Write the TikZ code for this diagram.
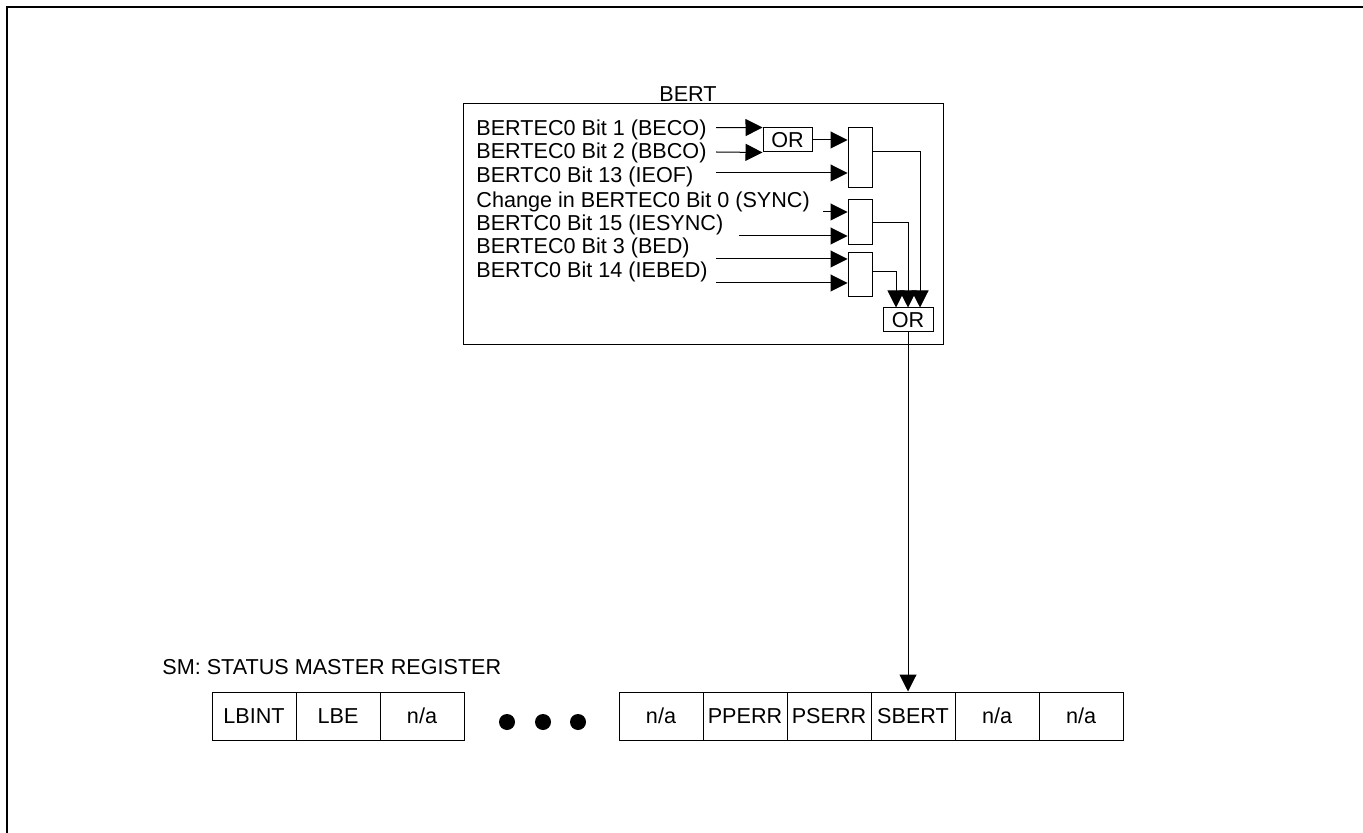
\documentclass[tikz,border=0pt]{standalone}
\usepackage{fontspec}
\setmainfont{Liberation Sans}
\usetikzlibrary{arrows.meta}
\begin{document}
\begin{tikzpicture}[x=0.5pt,y=-0.5pt,
  every node/.style={font=\fontsize{10.8pt}{12pt}\selectfont},
  lbl/.style={anchor=west,inner sep=0pt},
  gate/.style={draw,line width=0.5pt,inner sep=0pt,minimum width=12pt},
  orbox/.style={draw,line width=0.5pt,inner sep=0pt,minimum width=24.5pt,minimum height=12pt},
  cell/.style={draw,line width=0.5pt,inner sep=0pt,minimum width=42pt,minimum height=24pt},
  dot/.style={circle,fill=black,inner sep=0pt,minimum size=8pt},
  arr/.style={line width=0.5pt,-{Triangle[length=8.5pt,width=8.5pt]}}]
\useasboundingbox (0,0) rectangle (1363,833);
\begin{scope}
\clip (0,0) rectangle (1363,833);
\draw[line width=1pt] (7,7) rectangle (1380,850);
\end{scope}
% BERT box
\node[draw,line width=0.5pt,inner sep=0pt,minimum width=240pt,minimum height=120.5pt] (bert) at (703,224.5) {};
\node[inner sep=0pt] (berttitle) at (688,94) {BERT};
% inputs
\node[lbl] (i1) at (476,130) {BERTEC0 Bit 1 (BECO)};
\node[lbl] (i2) at (476,153) {BERTEC0 Bit 2 (BBCO)};
\node[lbl] (i3) at (476,177) {BERTC0 Bit 13 (IEOF)};
\node[lbl] (i4) at (476,202) {Change in BERTEC0 Bit 0 (SYNC)};
\node[lbl] (i5) at (476,225) {BERTC0 Bit 15 (IESYNC)};
\node[lbl] (i6) at (476,248) {BERTEC0 Bit 3 (BED)};
\node[lbl] (i7) at (476,272) {BERTC0 Bit 14 (IEBED)};
% gates
\node[orbox] (or1) at (787.5,140) {OR};
\node[gate,minimum height=30pt] (g1) at (860,158) {};
\node[gate,minimum height=22.5pt] (g2) at (860,222.5) {};
\node[gate,minimum height=22pt] (g3) at (860,275) {};
\node[orbox,minimum width=25pt] (or2) at (908,320) {OR};
% free ends
\coordinate (a1) at (716,127.7);
\coordinate (a2) at (716,152);
\coordinate (a3) at (716,173);
\coordinate (a4) at (823,212);
\coordinate (a5) at (739,236);
\coordinate (a6) at (716,259);
\coordinate (a7) at (716,283);
\coordinate (o1) at (872,152);
\coordinate (o2) at (872,223);
\coordinate (o3) at (872,272);
% input wires
\draw[arr] (a1) -- (or1.north west);
\draw[arr] (a2) -- (or1.south west);
\draw[arr] (or1.east) -- (or1.east -| g1.west);
\draw[arr] (a3) -- (a3 -| g1.west);
\draw[arr] (a4) -- (a4 -| g2.west);
\draw[arr] (a5) -- (a5 -| g2.west);
\draw[arr] (a6) -- (a6 -| g3.west);
\draw[arr] (a7) -- (a7 -| g3.west);
% outputs
\draw[arr] (o1) -| ([xshift=6pt]or2.north);
\draw[arr] (o2) -| (or2.north);
\draw[arr] (o3) -| ([xshift=-6pt]or2.north);
% register
\node[lbl] (smlabel) at (162,667) {SM: STATUS MASTER REGISTER};
\node[cell] (c1) at (254,716) {LBINT};
\node[cell] (c2) at (338,716) {LBE};
\node[cell] (c3) at (422,716) {n/a};
\node[dot] (d1) at (507,722) {};
\node[dot] (d2) at (543,722) {};
\node[dot] (d3) at (578,722) {};
\node[cell] (r1) at (661,716) {n/a};
\node[cell] (r2) at (745,716) {PPERR};
\node[cell] (r3) at (829,716) {PSERR};
\node[cell] (sbert) at (913,716) {SBERT};
\node[cell] (r5) at (997,716) {n/a};
\node[cell] (r6) at (1081,716) {n/a};
\draw[arr] (or2.south) -- (or2.south |- sbert.north);
\end{tikzpicture}
\end{document}
